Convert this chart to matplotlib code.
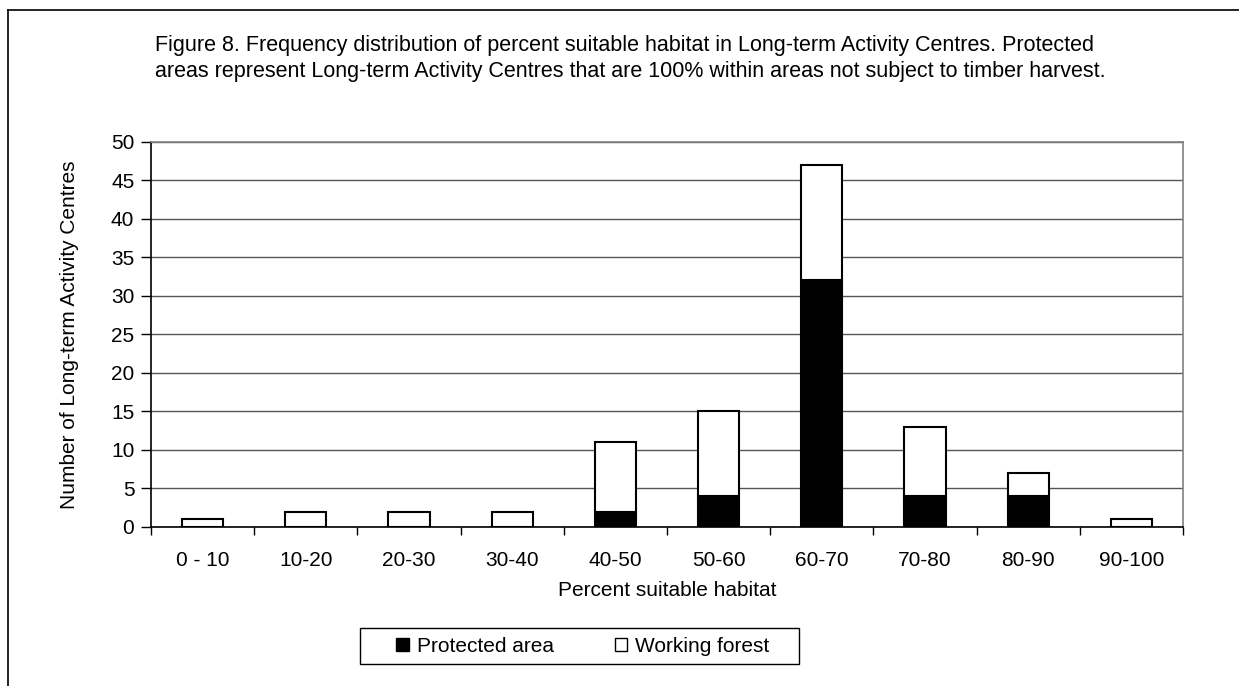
import matplotlib
matplotlib.use("Agg")
import matplotlib.pyplot as plt
from matplotlib.patches import Patch, Rectangle
from matplotlib.lines import Line2D
import numpy as np

plt.rcParams['font.family'] = ['Liberation Sans', 'DejaVu Sans']

categories = ["0 - 10", "10-20", "20-30", "30-40", "40-50", "50-60", "60-70", "70-80", "80-90", "90-100"]
protected = [0, 0, 0, 0, 2, 4, 32, 4, 4, 0]
working = [1, 2, 2, 2, 9, 11, 15, 9, 3, 1]
yticks = [0, 5, 10, 15, 20, 25, 30, 35, 40, 45, 50]

W, H = 1239, 686
FS = 15
fig = plt.figure(figsize=(W / 100, H / 100), dpi=100)

# outer frame (open on right and bottom)
fig.add_artist(Line2D([8 / W, 1.0], [1 - 10 / H, 1 - 10 / H], transform=fig.transFigure, color='black', lw=1.2))
fig.add_artist(Line2D([8 / W, 8 / W], [1 - 10 / H, 0.0], transform=fig.transFigure, color='black', lw=1.2))

left, right, top, bottom = 151, 1183, 141.7, 527
ax = fig.add_axes([left / W, 1 - bottom / H, (right - left) / W, (bottom - top) / H])

x = np.arange(len(categories))
bw = 0.40
ax.bar(x, protected, width=bw, color='black', edgecolor='black', linewidth=1.5, zorder=3)
ax.bar(x, working, width=bw, bottom=protected, color='white', edgecolor='black', linewidth=1.5, zorder=3)

ax.set_xlim(-0.5, len(categories) - 0.5)
ax.set_ylim(0, 50)
ax.set_yticks(yticks)
ax.yaxis.grid(True, color='#555555', linewidth=1.0, zorder=0)
ax.set_axisbelow(True)

ax.set_xticks(x)
ax.set_xticklabels(categories, fontsize=FS)
ax.set_xticks(np.arange(len(categories) + 1) - 0.5, minor=True)
ax.tick_params(axis='x', which='major', length=0, pad=17.5)
ax.tick_params(axis='x', which='minor', length=6, width=1, direction='out')
ax.tick_params(axis='y', length=7, width=1, direction='out', labelsize=FS, pad=5)

for s in ['left', 'bottom']:
    ax.spines[s].set_color('black')
    ax.spines[s].set_linewidth(1.2)
for s in ['right', 'top']:
    ax.spines[s].set_color('#808080')
    ax.spines[s].set_linewidth(1.2)

ax.set_xlabel("Percent suitable habitat", fontsize=FS, labelpad=8)
ax.set_ylabel("Number of Long-term Activity Centres", fontsize=FS, labelpad=23)

fig.text(155 / W, 1 - 58.5 / H,
         "Figure 8. Frequency distribution of percent suitable habitat in Long-term Activity Centres. Protected\n"
         "areas represent Long-term Activity Centres that are 100% within areas not subject to timber harvest.",
         fontsize=15.5, va='center', ha='left', linespacing=1.25)

# legend box
fig.add_artist(Rectangle((360 / W, 1 - 664 / H), (799 - 360) / W, 36 / H, transform=fig.transFigure,
                         facecolor='white', edgecolor='black', linewidth=1.0))
handles = [Patch(facecolor='black', edgecolor='black'), Patch(facecolor='white', edgecolor='black')]
leg = fig.legend(handles, ["Protected area", "Working forest"], loc='center',
                 bbox_to_anchor=(583 / W, 1 - 646 / H), ncol=2, frameon=False,
                 fontsize=FS, handlelength=0.6, handleheight=0.6,
                 columnspacing=2.9, borderpad=0.4, handletextpad=0.4, borderaxespad=0)

fig.savefig("out.png", dpi=100)
